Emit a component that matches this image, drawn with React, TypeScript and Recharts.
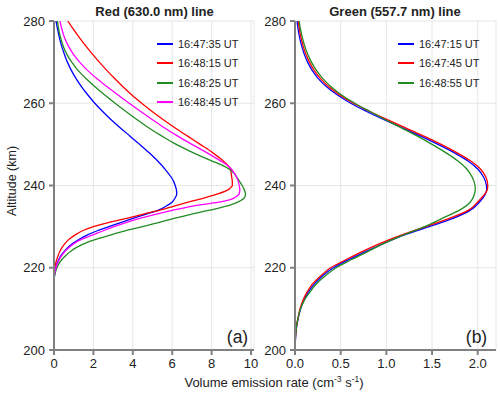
import React from 'react';
import { LineChart, Line, XAxis, YAxis, CartesianGrid } from 'recharts';

// ---------- Data ----------
const altitudeTicks = [200, 220, 240, 260, 280];
const redPanelTicks = [0, 2, 4, 6, 8, 10];
const greenPanelTicks = [0, 0.5, 1.0, 1.5, 2.0];

const redPanelTimes = ['16:47:35 UT', '16:48:15 UT', '16:48:25 UT', '16:48:45 UT'];
const greenPanelTimes = ['16:47:15 UT', '16:47:45 UT', '16:48:55 UT'];

// [altitude km, volume emission rate] — 630.0 nm
const red_164735: [number, number][] = [
  [280, 0.1], [278, 0.18], [276, 0.27], [274, 0.38], [272, 0.52], [270, 0.68], [268, 0.88], [266, 1.12],
  [264, 1.4], [262, 1.72], [260, 2.07], [258, 2.47], [256, 2.9], [254, 3.37], [252, 3.86], [250, 4.35],
  [248, 4.82], [246, 5.25], [244, 5.63], [242, 5.95], [241, 6.07], [240, 6.15], [239, 6.21], [238, 6.23],
  [237, 6.15], [236, 6.0], [235, 5.7], [234, 5.3], [233, 4.65], [232, 4.0], [231, 3.38], [230, 2.78],
  [229, 2.2], [228, 1.7], [227, 1.3], [226, 0.98], [225, 0.72], [224, 0.52], [223, 0.36], [222, 0.24],
  [221, 0.15], [220, 0.09], [219, 0.05], [218, 0.02], [216, 0.005], [214, 0], [200, 0],
];
const red_164815: [number, number][] = [
  [280, 0.7], [278, 0.98], [276, 1.28], [274, 1.6], [272, 1.94], [270, 2.3], [268, 2.68], [266, 3.08],
  [264, 3.5], [262, 3.95], [260, 4.45], [258, 4.98], [256, 5.55], [254, 6.15], [252, 6.78], [250, 7.42],
  [248, 8.05], [246, 8.58], [245, 8.8], [244, 8.95], [242, 9.02], [241, 9.05], [240, 9.05], [239.5, 8.97],
  [239, 8.85], [238, 8.35], [237, 7.65], [236, 6.85], [235, 6.1], [234, 5.38], [233, 4.5], [232, 3.7],
  [231, 2.75], [230, 2.0], [229, 1.45], [228, 1.08], [227, 0.78], [226, 0.57], [225, 0.42],
  [224, 0.3], [223, 0.21], [222, 0.14], [221, 0.08], [220, 0.03], [219, 0.01], [218, 0], [200, 0],
];
const red_164825: [number, number][] = [
  [280, 0.17], [278, 0.24], [276, 0.33], [274, 0.46], [272, 0.64], [270, 0.9], [268, 1.22], [266, 1.62],
  [264, 2.08], [262, 2.58], [260, 3.1], [258, 3.65], [256, 4.22], [254, 4.82], [252, 5.48], [250, 6.2],
  [248, 7.05], [246, 8.0], [245, 8.5], [244, 8.88], [243, 9.12], [242, 9.28], [241, 9.42], [240, 9.55],
  [239, 9.65], [238, 9.72], [237, 9.66], [236.4, 9.5], [236, 9.35], [235.2, 8.93], [234, 7.9], [233, 6.95],
  [232, 6.1], [231, 5.3], [230, 4.5], [229, 3.65], [228, 2.9], [227, 2.2], [226, 1.6], [225, 1.17],
  [224, 0.85], [223, 0.6], [222, 0.4], [221, 0.25], [220, 0.15], [219, 0.08], [218, 0.03], [217, 0.01],
  [215, 0], [200, 0],
];
const red_164845: [number, number][] = [
  [280, 0.3], [278, 0.4], [276, 0.53], [274, 0.72], [272, 0.97], [270, 1.3], [268, 1.7], [266, 2.17],
  [264, 2.7], [262, 3.25], [260, 3.82], [258, 4.4], [256, 5.0], [254, 5.62], [252, 6.28], [250, 7.0],
  [248, 7.75], [246, 8.45], [245, 8.78], [244, 9.0], [243, 9.15], [242, 9.27], [241, 9.35], [240, 9.4],
  [239, 9.43], [238, 9.4], [237.5, 9.3], [237, 9.15], [236.5, 8.9], [236, 8.45], [235.3, 7.41], [234, 6.05],
  [233, 5.15], [232, 4.35], [231, 3.65], [230, 3.05], [229, 2.5], [228, 1.98], [227, 1.45], [226, 1.05],
  [225, 0.78], [224, 0.56], [223, 0.4], [222, 0.27], [221, 0.17], [220, 0.1], [219, 0.05], [218, 0.02],
  [216, 0.005], [214, 0], [200, 0],
];

// 557.7 nm
const green_164715: [number, number][] = [
  [280, 0.022], [278, 0.034], [276, 0.05], [274, 0.072], [272, 0.1], [270, 0.138], [268, 0.188], [266, 0.255],
  [264, 0.345], [262, 0.465], [260, 0.61], [258, 0.785], [256, 0.975], [254, 1.175], [252, 1.375], [250, 1.565],
  [248, 1.74], [246, 1.89], [244, 2.0], [242, 2.065], [240, 2.095], [239, 2.098], [238, 2.085], [236, 2.02],
  [234, 1.92], [232, 1.73], [230, 1.47], [228, 1.2], [226, 0.98], [224, 0.78], [222, 0.59], [220, 0.42],
  [218, 0.3], [216, 0.21], [214, 0.145], [212, 0.095], [210, 0.062], [208, 0.038], [206, 0.02], [204, 0.01],
  [202, 0.004], [200, 0],
];
const green_164745: [number, number][] = [
  [280, 0.035], [278, 0.048], [276, 0.065], [274, 0.088], [272, 0.118], [270, 0.158], [268, 0.21], [266, 0.28],
  [264, 0.37], [262, 0.49], [260, 0.64], [258, 0.82], [256, 1.01], [254, 1.21], [252, 1.41], [250, 1.6],
  [248, 1.77], [246, 1.92], [244, 2.03], [242, 2.09], [240, 2.11], [239, 2.105], [238, 2.08], [236, 2.0],
  [234, 1.9], [232, 1.69], [230, 1.43], [228, 1.17], [226, 0.94], [224, 0.74], [222, 0.56], [220, 0.39],
  [218, 0.28], [216, 0.19], [214, 0.13], [212, 0.085], [210, 0.055], [208, 0.035], [206, 0.018], [204, 0.008],
  [202, 0.003], [200, 0],
];
const green_164855: [number, number][] = [
  [280, 0.045], [278, 0.06], [276, 0.08], [274, 0.105], [272, 0.138], [270, 0.18], [268, 0.235], [266, 0.305],
  [264, 0.395], [262, 0.51], [260, 0.655], [258, 0.82], [256, 0.99], [254, 1.165], [252, 1.34], [250, 1.5],
  [248, 1.65], [246, 1.78], [244, 1.88], [242, 1.94], [240, 1.97], [239, 1.973], [238, 1.965], [236, 1.92],
  [234, 1.8], [232, 1.61], [230, 1.42], [228, 1.19], [226, 0.98], [224, 0.8], [222, 0.62], [220, 0.45],
  [218, 0.33], [216, 0.23], [214, 0.16], [212, 0.1], [210, 0.06], [208, 0.035], [206, 0.018], [204, 0.008],
  [202, 0.002], [200, 0],
];

const toRows = (pairs: [number, number][]) => pairs.map(([alt, v]) => ({ alt, v }));

const FONT = '"Liberation Sans", Arial, Helvetica, sans-serif';
const FRAME = '#808080';
const GRID = '#e6e6e6';
const BLUE = '#0000ff';
const RED = '#ff0000';
const GREEN = '#228b22';
const MAGENTA = '#ff00ff';

type Series = { name: string; color: string; data: { alt: number; v: number }[] };

const redSeries: Series[] = [
  { name: redPanelTimes[0], color: BLUE, data: toRows(red_164735) },
  { name: redPanelTimes[1], color: RED, data: toRows(red_164815) },
  { name: redPanelTimes[2], color: GREEN, data: toRows(red_164825) },
  { name: redPanelTimes[3], color: MAGENTA, data: toRows(red_164845) },
];
const greenSeries: Series[] = [
  { name: greenPanelTimes[0], color: BLUE, data: toRows(green_164715) },
  { name: greenPanelTimes[1], color: RED, data: toRows(green_164745) },
  { name: greenPanelTimes[2], color: GREEN, data: toRows(green_164855) },
];

const tickStyle = { fill: '#222', fontSize: 13, fontFamily: FONT };

function Panel(props: {
  left: number; width: number; mLeft: number; mRight: number;
  xDomain: [number, number]; xTicks: number[]; fmt: (v: number) => string; series: Series[];
}) {
  const { left, width, mLeft, mRight, xDomain, xTicks, fmt, series } = props;
  return (
    <div style={{ position: 'absolute', left, top: 0 }}>
      <LineChart
        width={width}
        height={394}
        layout="vertical"
        margin={{ top: 21, right: mRight, bottom: 24, left: mLeft }}
      >
        <CartesianGrid stroke={GRID} strokeWidth={1} />
        <XAxis
          type="number"
          dataKey="v"
          domain={xDomain}
          ticks={xTicks}
          tickFormatter={fmt}
          allowDataOverflow
          height={20}
          tickSize={5}
          tickMargin={4}
          stroke={FRAME}
          strokeWidth={2}
          tick={tickStyle}
        />
        <XAxis
          xAxisId="top"
          orientation="top"
          type="number"
          domain={xDomain}
          allowDataOverflow
          height={0}
          tick={false}
          tickLine={false}
          stroke={FRAME}
          strokeWidth={2}
        />
        <YAxis
          type="number"
          dataKey="alt"
          domain={[200, 280]}
          ticks={altitudeTicks}
          reversed
          allowDataOverflow
          width={30}
          tickSize={5}
          tickMargin={4}
          stroke={FRAME}
          strokeWidth={2}
          tick={tickStyle}
        />
        <YAxis
          yAxisId="right"
          orientation="right"
          type="number"
          domain={[200, 280]}
          reversed
          allowDataOverflow
          width={0}
          tick={false}
          tickLine={false}
          stroke={FRAME}
          strokeWidth={2}
        />
        {series.map((s) => (
          <Line
            key={s.name}
            name={s.name}
            data={s.data}
            dataKey="v"
            type="monotone"
            stroke={s.color}
            strokeWidth={1.3}
            dot={false}
            activeDot={false}
            isAnimationActive={false}
          />
        ))}
      </LineChart>
    </div>
  );
}

function LegendBox(props: { left: number; top: number; series: Series[] }) {
  return (
    <div style={{ position: 'absolute', left: props.left, top: props.top }}>
      {props.series.map((s, i) => (
        <div
          key={s.name}
          style={{
            position: 'absolute', left: 0, top: Math.round(i * 19.4) - 7, height: 14,
            display: 'flex', alignItems: 'center', whiteSpace: 'nowrap',
          }}
        >
          <div style={{ width: 16, height: 2, background: s.color }} />
          <span style={{ marginLeft: 5, fontSize: 11, fontFamily: FONT, color: '#222', lineHeight: '14px' }}>
            {s.name}
          </span>
        </div>
      ))}
    </div>
  );
}

const centered = (x: number, y: number): React.CSSProperties => ({
  position: 'absolute', left: x, top: y, transform: 'translate(-50%, -50%)', whiteSpace: 'nowrap',
  fontFamily: FONT, color: '#222', lineHeight: 1,
});

export default function App() {
  return (
    <div style={{ position: 'absolute', left: 0, top: 0, width: 500, height: 394, background: '#fff', overflow: 'hidden' }}>
      <Panel left={0} width={260} mLeft={24} mRight={6} xDomain={[0, 10.15]} xTicks={redPanelTicks}
        fmt={(v) => String(v)} series={redSeries} />
      <Panel left={256} width={244} mLeft={9} mRight={4} xDomain={[0, 2.2]} xTicks={greenPanelTicks}
        fmt={(v) => v.toFixed(1)} series={greenSeries} />

      <div style={{ ...centered(154.5, 11), fontSize: 13, fontWeight: 'bold' }}>Red (630.0 nm) line</div>
      <div style={{ ...centered(395, 11), fontSize: 13, fontWeight: 'bold' }}>Green (557.7 nm) line</div>

      <LegendBox left={157} top={44} series={redSeries} />
      <LegendBox left={398} top={44} series={greenSeries} />

      <div style={{ ...centered(237.5, 337.5), fontSize: 17.5 }}>(a)</div>
      <div style={{ ...centered(476.5, 337.5), fontSize: 17.5 }}>(b)</div>

      <div style={{ ...centered(12, 181), fontSize: 12.5, transform: 'translate(-50%, -50%) rotate(-90deg)' }}>
        Altitude (km)
      </div>
      <div style={{ ...centered(274, 382), fontSize: 13 }}>
        Volume emission rate (cm<span style={{ fontSize: 8.5, position: 'relative', top: -5 }}>-3</span> s
        <span style={{ fontSize: 8.5, position: 'relative', top: -5 }}>-1</span>)
      </div>
    </div>
  );
}
